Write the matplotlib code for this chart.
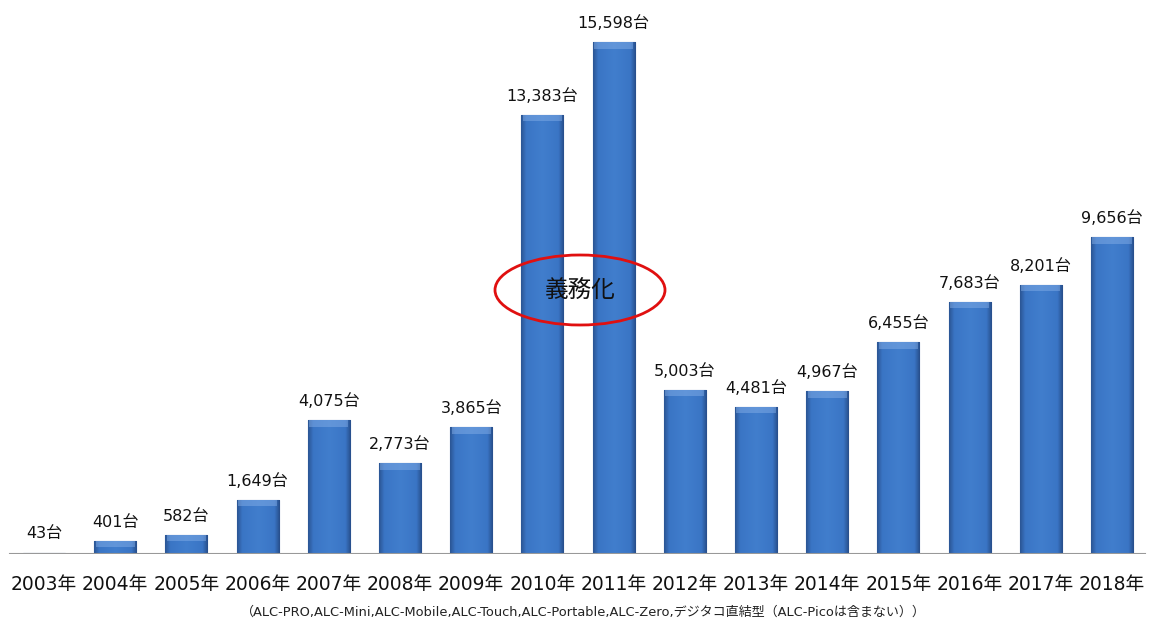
import matplotlib.pyplot as plt
import numpy as np
from matplotlib.patches import Ellipse
from matplotlib.colors import LinearSegmentedColormap

# Verdana-like latin glyphs, CJK picked up from the fallback family
plt.rcParams['font.family'] = ['DejaVu Sans', 'Noto Sans CJK JP']

# yearly installations
years = ['2003年', '2004年', '2005年', '2006年', '2007年', '2008年', '2009年', '2010年',
         '2011年', '2012年', '2013年', '2014年', '2015年', '2016年', '2017年', '2018年']
units = [43, 401, 582, 1649, 4075, 2773, 3865, 13383,
         15598, 5003, 4481, 4967, 6455, 7683, 8201, 9656]
note = '（ALC-PRO,ALC-Mini,ALC-Mobile,ALC-Touch,ALC-Portable,ALC-Zero,デジタコ直結型（ALC-Picoは含まない））'

fig = plt.figure(figsize=(11.49, 6.21), dpi=100)
ax = fig.add_axes([0, 67 / 621, 1, 554 / 621])

x = np.arange(len(years))
bars = ax.bar(x, units, width=0.59, color='#3d79c9', edgecolor='#2b5696', lw=0.8, zorder=2)

# bevelled shading: darker sides, flat face
cmap = LinearSegmentedColormap.from_list(
    'bevel', [(0, '#2b5695'), (0.12, '#3a75c5'), (0.5, '#417ecd'), (0.88, '#3a75c5'), (1, '#284f8c')])
grad = np.linspace(0, 1, 64).reshape(1, -1)
for b in bars:
    x0, y0, w, h = b.get_x(), b.get_y(), b.get_width(), b.get_height()
    im = ax.imshow(grad, cmap=cmap, aspect='auto', extent=(x0, x0 + w, y0, y0 + h), zorder=3)
    im.set_clip_path(b)
    # light bevel along the top edge
    cap = min(h, 200)
    ax.fill_between([x0 + 0.02, x0 + w - 0.02], y0 + h - cap, y0 + h,
                    color='#8ab3ea', alpha=0.45, lw=0, zorder=4)

for xi, v in zip(x, units):
    ax.annotate(f'{v:,}台', (xi, v), xytext=(0, 8), textcoords='offset points',
                ha='center', va='bottom', fontsize=11.5, color='#111111')

ax.set_xlim(-44 / 71.2, (1149 - 44) / 71.2)
ax.set_ylim(0, 15598 * 554 / 512)
ax.axhline(0, xmin=10 / 1149, xmax=1145 / 1149, color='#999999', lw=1.5, zorder=5)
ax.axis('off')

for xi, yr in zip(x, years):
    ax.annotate(yr, (xi, 0), xytext=(0, -15), textcoords='offset points',
                ha='center', va='top', fontsize=13.5, color='#111111')

fig.text(583 / 1149, 1 - 612 / 621, note, ha='center', va='center', fontsize=9.4, color='#222222')

# highlight for the mandatory period
fig.patches.append(Ellipse((580 / 1149, 1 - 290 / 621), 170 / 1149, 70 / 621,
                           transform=fig.transFigure, fill=False, edgecolor='#e01010', lw=2, zorder=10))
fig.text(580 / 1149, 1 - 290 / 621, '義務化', ha='center', va='center', fontsize=17,
         family=['Noto Sans CJK JP'], color='#111111', zorder=11)

fig.savefig('out.png', dpi=100)
